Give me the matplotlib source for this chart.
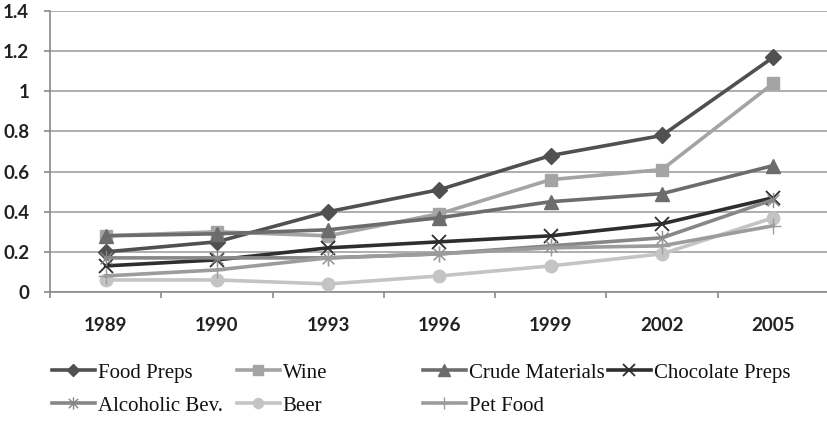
import matplotlib
matplotlib.use("Agg")
import matplotlib.pyplot as plt
from matplotlib.path import Path
from matplotlib.lines import Line2D

years = ["1989", "1990", "1993", "1996", "1999", "2002", "2005"]
food_preps = [0.20, 0.25, 0.40, 0.51, 0.68, 0.78, 1.17]
wine = [0.28, 0.30, 0.28, 0.39, 0.56, 0.61, 1.04]
crude_materials = [0.28, 0.29, 0.31, 0.37, 0.45, 0.49, 0.63]
chocolate_preps = [0.13, 0.16, 0.22, 0.25, 0.28, 0.34, 0.47]
alcoholic_bev = [0.17, 0.17, 0.17, 0.19, 0.23, 0.27, 0.46]
beer = [0.06, 0.06, 0.04, 0.08, 0.13, 0.19, 0.37]
pet_food = [0.08, 0.11, 0.17, 0.19, 0.22, 0.23, 0.33]
yticks = [0, 0.2, 0.4, 0.6, 0.8, 1.0, 1.2, 1.4]
ytick_labels = ["0", "0.2", "0.4", "0.6", "0.8", "1", "1.2", "1.4"]

asterisk = Path([(-1, -1), (1, 1), (-1, 1), (1, -1), (0, -1.3), (0, 1.3)],
                [Path.MOVETO, Path.LINETO, Path.MOVETO, Path.LINETO, Path.MOVETO, Path.LINETO])

series = [
    ("Food Preps", food_preps, "#505050", dict(marker="D", ms=8)),
    ("Wine", wine, "#a4a4a4", dict(marker="s", ms=9)),
    ("Crude Materials", crude_materials, "#6c6c6c", dict(marker="^", ms=10)),
    ("Chocolate Preps", chocolate_preps, "#2e2e2e", dict(marker="x", ms=10, mew=1.3)),
    ("Alcoholic Bev.", alcoholic_bev, "#878787", dict(marker=asterisk, ms=11, mew=1.0)),
    ("Beer", beer, "#c4c4c4", dict(marker="o", ms=9)),
    ("Pet Food", pet_food, "#9c9c9c", dict(marker="+", ms=11, mew=1.0)),
]

fig = plt.figure(figsize=(8.27, 4.24), dpi=100)
ax = fig.add_axes([50 / 827, 1 - 292 / 424, 779 / 827, 281 / 424])

x = list(range(len(years)))
handles = []
for name, vals, col, mk in series:
    h, = ax.plot(x, vals, color=col, lw=2.6, label=name, mfc=col, mec=col, zorder=3, **mk)
    handles.append(h)

ax.set_xlim(-0.5, len(years) - 0.5)
ax.set_ylim(0, 1.4)
ax.set_yticks(yticks)
ax.set_yticklabels(ytick_labels)
ax.yaxis.grid(True, color="#a8a8a8", lw=1.3)
ax.set_axisbelow(True)
ax.set_xticks(x)
ax.set_xticklabels(years)
ax.set_xticks([i + 0.5 for i in range(-1, len(years))], minor=True)
ax.tick_params(axis="x", which="major", length=0, pad=18)
ax.tick_params(axis="x", which="minor", length=4, color="#8a8a8a", width=1.2, direction="out")
ax.tick_params(axis="y", length=4, color="#8a8a8a", width=1.2, pad=11)
for lab in ax.get_xticklabels() + ax.get_yticklabels():
    lab.set_family("Lato")
    lab.set_fontsize(13.5)
    lab.set_fontweight("bold")
    lab.set_color("#222222")
for s in ["top", "right"]:
    ax.spines[s].set_visible(False)
ax.spines["left"].set_color("#8a8a8a")
ax.spines["left"].set_linewidth(1.2)
ax.spines["bottom"].set_color("#8a8a8a")
ax.spines["bottom"].set_linewidth(1.2)

# legend: 4 columns placed Excel-style
col_x = [52, 237, 423, 608]
row_y = [376, 410]
order = [[0, 4], [1, 5], [2, 6], [3]]
for ci, idxs in enumerate(order):
    hs = []
    for i in idxs:
        h = handles[i]
        lh = Line2D([], [], color=h.get_color(), lw=2.6, marker=h.get_marker(),
                    ms=h.get_markersize() * 0.8, mfc=h.get_color(), mec=h.get_color(),
                    mew=h.get_markeredgewidth(), label=h.get_label())
        hs.append(lh)
    leg = fig.legend(handles=hs, loc="upper left",
                     bbox_to_anchor=(col_x[ci] / 827, 1 - (row_y[0] - 13) / 424),
                     frameon=False, handlelength=2.05, handletextpad=0.15,
                     labelspacing=0.65, borderaxespad=0, borderpad=0,
                     prop=dict(family="Liberation Serif", size=15))
    for t in leg.get_texts():
        t.set_color("#111111")

fig.savefig("out.png", dpi=100)
